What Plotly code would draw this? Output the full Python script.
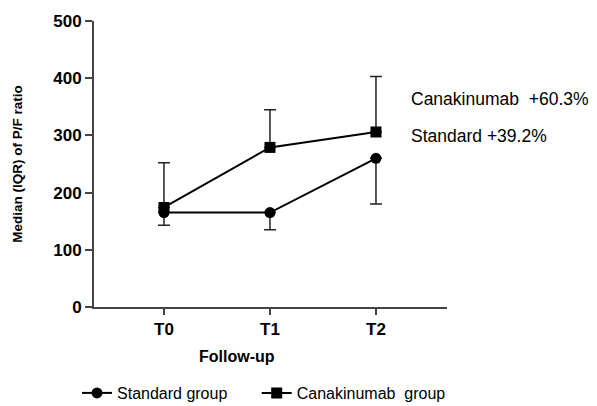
import plotly.graph_objects as go

timepoints = ["T0", "T1", "T2"]
standard_median = [165, 165, 260]
standard_q1 = [143, 135, 180]
canakinumab_median = [174, 279, 306]
canakinumab_q3 = [252, 345, 403]
y_ticks = [0, 100, 200, 300, 400, 500]

std_minus = [m - q for m, q in zip(standard_median, standard_q1)]
can_plus = [q - m for m, q in zip(canakinumab_median, canakinumab_q3)]
xs = [0, 1, 2]

FONT = "Liberation Sans, Arial, sans-serif"

fig = go.Figure()
fig.add_trace(go.Scatter(
    x=xs, y=standard_median, mode="lines+markers", name="Standard group",
    line=dict(color="black", width=2),
    marker=dict(symbol="circle", size=11, color="black"),
    error_y=dict(type="data", symmetric=False, array=[0, 0, 0], arrayminus=std_minus,
                 color="#222", thickness=1.5, width=6),
    legend="legend",
))
fig.add_trace(go.Scatter(
    x=xs, y=canakinumab_median, mode="lines+markers", name="Canakinumab  group",
    line=dict(color="black", width=2),
    marker=dict(symbol="square", size=11, color="black"),
    error_y=dict(type="data", symmetric=False, array=can_plus, arrayminus=[0, 0, 0],
                 color="#222", thickness=1.5, width=6),
    legend="legend2",
))

leg_common = dict(orientation="h", xref="container", yref="container",
                  xanchor="left", yanchor="middle", y=0.032,
                  font=dict(size=16, color="black"), bgcolor="rgba(0,0,0,0)")

fig.update_layout(
    width=597, height=406,
    margin=dict(l=94, r=150, t=19, b=99),
    paper_bgcolor="white", plot_bgcolor="white",
    font=dict(family=FONT, color="black"),
    showlegend=True,
    legend=dict(x=0.129, **leg_common),
    legend2=dict(x=0.430, **leg_common),
    xaxis=dict(range=[-0.66, 2.67], tickvals=xs, ticktext=timepoints,
               showgrid=False, zeroline=False, showline=True, linecolor="#444", linewidth=2,
               ticks="outside", ticklen=6, tickwidth=1.5, tickcolor="#444",
               tickfont=dict(size=17, family=FONT, weight="bold", color="black")),
    yaxis=dict(range=[0, 500], tickvals=y_ticks,
               showgrid=False, zeroline=False, showline=True, linecolor="#444", linewidth=2,
               ticks="outside", ticklen=7, tickwidth=1.5, tickcolor="#444",
               tickfont=dict(size=17, family=FONT, weight="bold", color="black"),
               title=dict(text="Median (IQR) of P/F ratio", standoff=27,
                          font=dict(size=13.5, family=FONT, weight="bold", color="black"))),
)

fig.add_annotation(text="Follow-up", xref="paper", yref="paper", x=0.405, y=-0.174,
                   showarrow=False, font=dict(size=16, weight="bold", color="black"),
                   xanchor="center", yanchor="middle")
fig.add_annotation(text="Canakinumab  +60.3%", xref="paper", yref="paper", x=0.893, y=0.729,
                   showarrow=False, font=dict(size=17.5, color="black"),
                   xanchor="left", yanchor="middle")
fig.add_annotation(text="Standard +39.2%", xref="paper", yref="paper", x=0.893, y=0.597,
                   showarrow=False, font=dict(size=17.5, color="black"),
                   xanchor="left", yanchor="middle")

fig.write_html("out.html", post_script="document.body.style.margin='0';",
               config={"displayModeBar": False})
